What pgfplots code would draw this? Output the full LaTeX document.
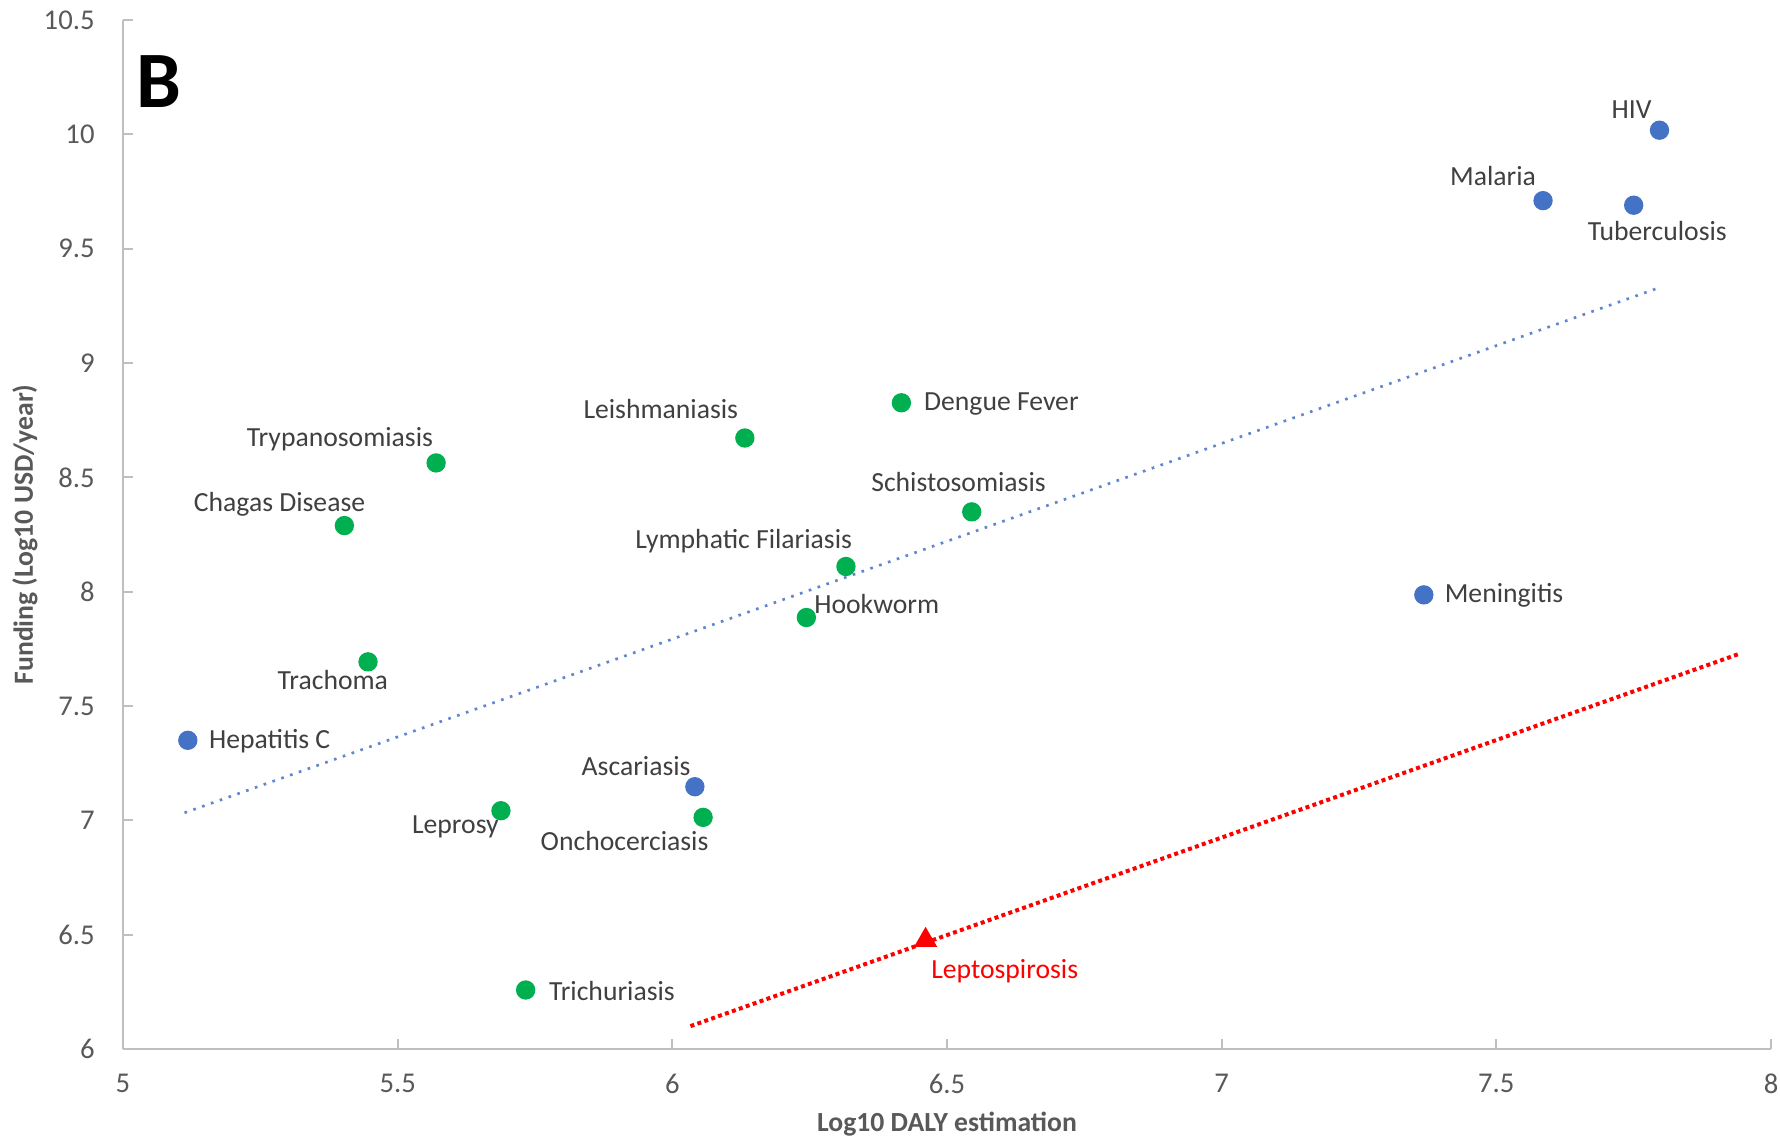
\documentclass[border=0pt]{standalone}
\usepackage{fontspec}
\setmainfont{Carlito}
\usepackage{pgfplots}
\pgfplotsset{compat=1.18}
\definecolor{ptblue}{HTML}{4472C4}
\definecolor{ptgreen}{HTML}{00B050}
\definecolor{axgray}{HTML}{BFBFBF}
\definecolor{tickgray}{HTML}{595959}
\definecolor{lblgray}{HTML}{404040}
\tikzset{lbl/.style={font=\fontsize{8.3}{9}\selectfont, text=lblgray, inner sep=0pt}}
\begin{document}
\begin{tikzpicture}
\useasboundingbox (-36.9pt,-27.3pt) rectangle (497.1pt,314.7pt);
\begin{axis}[
  at={(0pt,0pt)}, anchor=south west,
  scale only axis, width=494.4pt, height=308.7pt,
  xmin=5, xmax=8, ymin=6, ymax=10.5,
  xtick={5,5.5,6,6.5,7,7.5,8}, ytick={6,6.5,7,7.5,8,8.5,9,9.5,10,10.5},
  axis x line*=bottom, axis y line*=left,
  axis line style={axgray, line width=0.6pt, -},
  tick style={axgray, line width=0.6pt}, major tick length=3pt,
  tick align=inside,
  ticklabel style={font=\fontsize{8.6}{9}\selectfont, text=tickgray},
  /pgf/number format/assume math mode=true,
  xticklabel style={yshift=-4pt},
  yticklabel style={xshift=-5pt},
  xlabel={\textbf{Log10 DALY estimation}},
  ylabel={\textbf{Funding (Log10 USD/year)}},
  label style={font=\fontsize{8.3}{9}\selectfont, text=tickgray},
  xlabel style={at={(axis description cs:0.5,-0.0729)}, anchor=center},
  ylabel style={at={(axis description cs:-0.0595,0.5)}, anchor=center},
  clip=false,
]
% trend lines
\addplot[ptblue!85, dotted, line width=0.8pt] coordinates {(5.112,7.033) (7.797,9.33)};
\addplot[red, densely dotted, line width=1.2pt] coordinates {(6.033,6.10) (7.942,7.728)};
% blue points
\addplot[only marks, mark=*, mark size=2.7pt, color=ptblue] coordinates {
 (7.797,10.018) (7.585,9.71) (7.750,9.69) (7.368,7.986) (5.118,7.35) (6.041,7.147)};
% green points
\addplot[only marks, mark=*, mark size=2.7pt, color=ptgreen] coordinates {
 (6.417,8.826) (6.132,8.672) (5.570,8.563) (5.403,8.289) (6.545,8.349)
 (6.316,8.110) (6.244,7.887) (5.446,7.693) (5.688,7.042) (6.056,7.013) (5.733,6.258)};
% leptospirosis
\addplot[only marks, mark=triangle*, mark size=3.6pt, color=red] coordinates {(6.461,6.476)};
% labels
\node[lbl] at (axis cs:7.746,10.108) {HIV};
\node[lbl] at (axis cs:7.494,9.819) {Malaria};
\node[lbl] at (axis cs:7.793,9.576) {Tuberculosis};
\node[lbl] at (axis cs:7.514,7.986) {Meningitis};
\node[lbl] at (axis cs:5.267,7.345) {Hepatitis C};
\node[lbl] at (axis cs:5.934,7.236) {Ascariasis};
\node[lbl] at (axis cs:6.599,8.821) {Dengue Fever};
\node[lbl] at (axis cs:5.979,8.801) {Leishmaniasis};
\node[lbl] at (axis cs:5.395,8.667) {Trypanosomiasis};
\node[lbl] at (axis cs:5.285,8.384) {Chagas Disease};
\node[lbl] at (axis cs:6.521,8.478) {Schistosomiasis};
\node[lbl] at (axis cs:6.130,8.220) {Lymphatic Filariasis};
\node[lbl] at (axis cs:6.372,7.947) {Hookworm};
\node[lbl] at (axis cs:5.382,7.614) {Trachoma};
\node[lbl] at (axis cs:5.605,6.973) {Leprosy};
\node[lbl] at (axis cs:5.913,6.908) {Onchocerciasis};
\node[lbl] at (axis cs:5.890,6.253) {Trichuriasis};
\node[lbl, text=red] at (axis cs:6.605,6.342) {Leptospirosis};
\node[text=black, font=\bfseries\fontsize{24}{24}\selectfont] at (rel axis cs:0.0218,0.94) {B};
\end{axis}
\end{tikzpicture}
\end{document}
